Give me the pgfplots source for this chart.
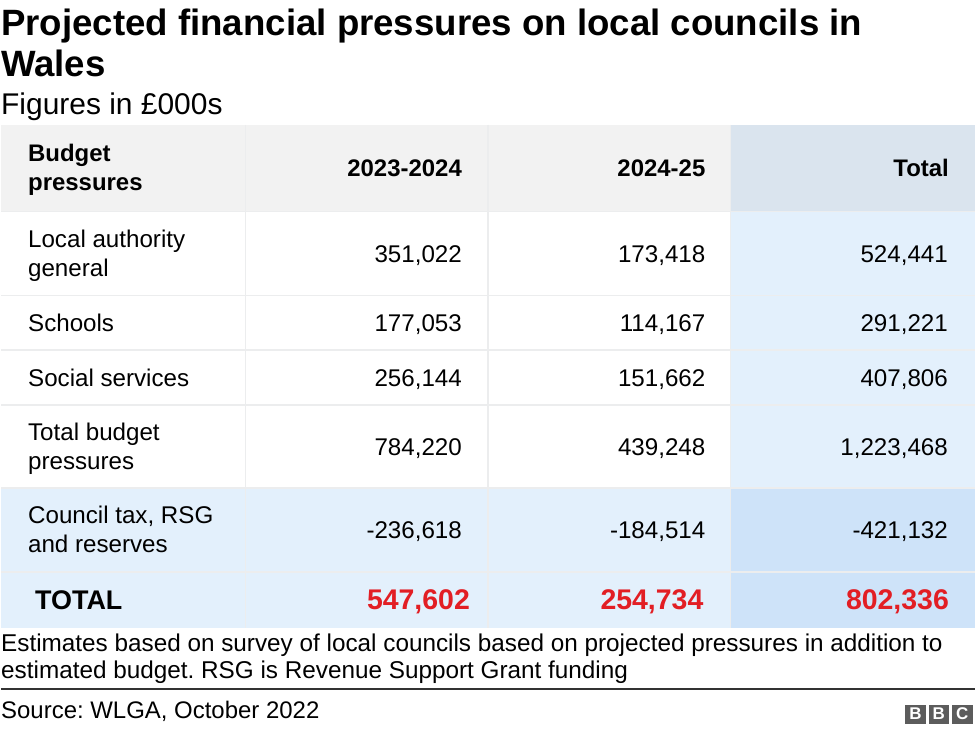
\documentclass[border=0pt]{standalone}
\usepackage{pgfplots}
\pgfplotsset{compat=1.18}
\usepackage{pgfplotstable}
\usepackage{fontspec}
\setmainfont{Liberation Sans}
\frenchspacing

\definecolor{hdrgray}{RGB}{242,242,242}
\definecolor{hdrblue}{RGB}{218,228,238}
\definecolor{lblue}{RGB}{227,240,252}
\definecolor{mblue}{RGB}{206,227,249}
\definecolor{gridc}{RGB}{236,237,238}
\definecolor{bbcred}{RGB}{226,30,36}
\definecolor{logogray}{RGB}{92,92,92}
\definecolor{rulec}{RGB}{51,51,51}

% row centre (pixels from top), 2023-2024, 2024-25, Total
\pgfplotstableread{
y a b t
254 351022 173418 524441
323.5 177053 114167 291221
378.5 256144 151662 407806
447.5 784220 439248 1223468
531 -236618 -184514 -421132
}\datarows
\pgfplotstableread{
y a b t
601 547602 254734 802336
}\datatotal

\newcommand{\fs}[1]{\fontsize{#1}{#1}\selectfont}

\begin{document}
\begin{tikzpicture}
\begin{axis}[
  hide axis, scale only axis, width=976pt, height=733pt,
  xmin=0, xmax=976, ymin=0, ymax=733, y dir=reverse, clip=false,
  /pgf/number format/assume math mode=true,
  point meta=explicit symbolic,
  nodes near coords={\pgfmathprintnumber[fixed,precision=0,1000 sep={,}]{\pgfplotspointmeta}},
  nodes near coords align={anchor=east},
  valreg/.style={every node near coord/.style={anchor=east, inner sep=0pt, font=\fs{24.2}, text height=17.3pt, text depth=0pt, black}},
  valtot/.style={every node near coord/.style={anchor=east, inner sep=0pt, font=\bfseries\fs{28.5}, text height=20.4pt, text depth=0pt, bbcred}},
]
% background
\fill[white] (axis cs:0,0) rectangle (axis cs:976,733);
% cells
\fill[hdrgray] (axis cs:0,125) rectangle (axis cs:731,212);
\fill[hdrblue] (axis cs:731,125) rectangle (axis cs:976,212);
\fill[lblue] (axis cs:731,212) rectangle (axis cs:976,489);
\fill[lblue] (axis cs:0,489) rectangle (axis cs:731,629);
\fill[mblue] (axis cs:731,489) rectangle (axis cs:976,629);
% grid
\foreach \yy in {212,296,351,406,489,573}{
  \edef\tmp{\noexpand\draw[gridc, line width=1.6pt] (axis cs:0,\yy) -- (axis cs:976,\yy);}\tmp
}
\foreach \xx in {245,488,731}{
  \edef\tmp{\noexpand\draw[gridc, line width=1.6pt] (axis cs:\xx,125) -- (axis cs:\xx,629);}\tmp
}

% title
\node[anchor=base west, inner sep=0pt, font=\bfseries\fs{36.7}] at (axis cs:0,36) {Projected financial pressures on local councils in};
\node[anchor=base west, inner sep=0pt, font=\bfseries\fs{36.7}] at (axis cs:0,77) {Wales};
\node[anchor=base west, inner sep=0pt, font=\fs{30}] at (axis cs:0,115) {Figures in £000s};

% header
\node[anchor=base west, inner sep=0pt, font=\bfseries\fs{24}] at (axis cs:27,162) {Budget};
\node[anchor=base west, inner sep=0pt, font=\bfseries\fs{24}] at (axis cs:27,191) {pressures};
\node[anchor=base east, inner sep=0pt, font=\bfseries\fs{24}] at (axis cs:462,177) {2023-2024};
\node[anchor=base east, inner sep=0pt, font=\bfseries\fs{24}] at (axis cs:706,177) {2024-25};
\node[anchor=base east, inner sep=0pt, font=\bfseries\fs{24}] at (axis cs:950,177) {Total};

% row labels
\begin{scope}[every node/.style={anchor=base west, inner sep=0pt, font=\fs{24.2}}]
\node at (axis cs:27,248) {Local authority};
\node at (axis cs:27,277) {general};
\node at (axis cs:27,332) {Schools};
\node at (axis cs:27,387) {Social services};
\node at (axis cs:27,441.5) {Total budget};
\node at (axis cs:27,470.5) {pressures};
\node at (axis cs:27,525) {Council tax, RSG};
\node at (axis cs:27,554) {and reserves};
\end{scope}
\node[anchor=base west, inner sep=0pt, font=\bfseries\fs{27}] at (axis cs:34,611) {TOTAL};

% values
\addplot[draw=none, mark=none, valreg] table[x expr=462, y=y, meta=a] {\datarows};
\addplot[draw=none, mark=none, valreg] table[x expr=706, y=y, meta=b] {\datarows};
\addplot[draw=none, mark=none, valreg] table[x expr=949, y=y, meta=t] {\datarows};
\addplot[draw=none, mark=none, valtot] table[x expr=470, y=y, meta=a] {\datatotal};
\addplot[draw=none, mark=none, valtot] table[x expr=704, y=y, meta=b] {\datatotal};
\addplot[draw=none, mark=none, valtot] table[x expr=950, y=y, meta=t] {\datatotal};

% footnote
\node[anchor=base west, inner sep=0pt, font=\fs{24.35}] at (axis cs:0,653) {Estimates based on survey of local councils based on projected pressures in addition to};
\node[anchor=base west, inner sep=0pt, font=\fs{24.35}] at (axis cs:0,680) {estimated budget. RSG is Revenue Support Grant funding};
\draw[rulec, line width=2pt] (axis cs:0,690.5) -- (axis cs:976,690.5);
\node[anchor=base west, inner sep=0pt, font=\fs{24}] at (axis cs:0,720) {Source: WLGA, October 2022};

% BBC logo
\fill[logogray] (axis cs:906,706) rectangle (axis cs:926.5,725);
\fill[logogray] (axis cs:929.5,706) rectangle (axis cs:950,725);
\fill[logogray] (axis cs:953,706) rectangle (axis cs:973.5,725);
\node[white, inner sep=0pt, font=\bfseries\fs{17}] at (axis cs:916.25,715.5) {B};
\node[white, inner sep=0pt, font=\bfseries\fs{17}] at (axis cs:939.75,715.5) {B};
\node[white, inner sep=0pt, font=\bfseries\fs{17}] at (axis cs:963.25,715.5) {C};
\end{axis}
\end{tikzpicture}
\end{document}
